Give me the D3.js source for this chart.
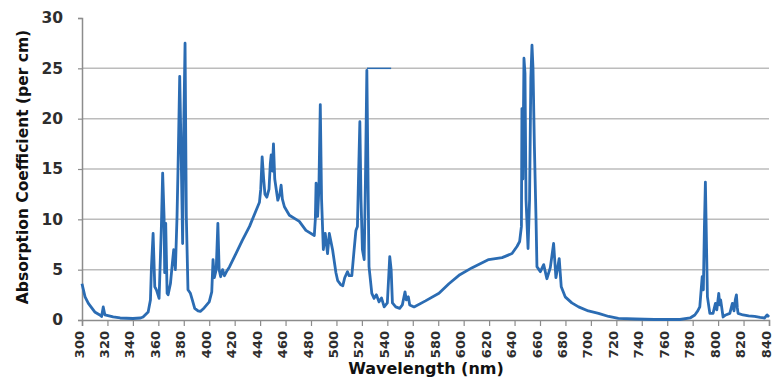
<!DOCTYPE html>
<html>
<head>
<meta charset="utf-8">
<script src="https://cdn.jsdelivr.net/npm/d3@7"></script>
<style>
  body { margin: 0; background: #fff; }
  svg { display: block; font-family: "DejaVu Sans", Verdana, sans-serif; }
</style>
</head>
<body>
<div id="chart"></div>
<script>
// spectrum: wavelength (nm) and absorption (per cm)
const wavelength = [
  300, 302.4, 305, 310, 314, 315.4, 316.7, 318, 324.5, 330, 340, 346, 348, 352,
  353.8, 354.6, 355.9, 357.2, 358.5, 360.6, 362.4, 363.4, 364.5, 365, 365.8, 366.9,
  367.7, 369.5, 371, 372.1, 373.4, 374.7, 375.5, 376.8, 378.1, 379.1, 379.9, 381,
  382, 383.3, 385.2, 386.7, 388.6, 391.2, 393, 396, 400, 402, 403, 404, 405.5,
  406.8, 407.8, 409, 410.5, 412, 414, 416, 421, 426, 431.7, 436.9, 439.5, 440.5,
  441.6, 442.8, 443.8, 445.3, 447, 448, 448.7, 449.6, 450.5, 451.5, 453.9, 455.5,
  456.5, 457.5, 459.1, 463, 470.8, 476, 482.6, 483.4, 484, 485.2, 486.2, 487.3,
  488.3, 489.7, 491.2, 493, 494.4, 497, 499.6, 501, 503.5, 505, 506.5, 508.7, 510,
  512.1, 513.9, 515.3, 516.5, 517.5, 518.4, 519.3, 520.4, 521.8, 522.8, 523.9, 525,
  525.6, 527.8, 529.6, 531.4, 533.5, 535.4, 537.5, 540, 541.9, 543, 544, 546.6,
  549.7, 551.8, 553.9, 554.9, 556.5, 557.6, 561, 570, 580.6, 588.4, 597, 606.7,
  619.7, 630.2, 638, 641.9, 644, 645.4, 645.8, 646.5, 647.4, 648.2, 649, 650.6,
  651.8, 652.8, 653.7, 654.5, 655.6, 656.9, 657.6, 660.3, 662.9, 665.4, 668.1,
  670.7, 672.5, 675.1, 676.7, 679.8, 685, 690.3, 698, 706, 714, 721.6, 734.7, 750,
  770, 778, 781.7, 784, 785.6, 787.5, 788.4, 789.2, 790, 790.8, 791.6, 793.5, 796,
  797.9, 799, 800.5, 801.3, 802, 803.9, 806, 809.2, 811.2, 812.5, 813.5, 814.4,
  815.1, 815.7, 819.6, 824, 828.7, 833, 836.6, 838.5, 840
];
const absorption = [
  3.6, 2.3, 1.65, 0.8, 0.5, 0.35, 1.3, 0.5, 0.3, 0.2, 0.15, 0.2, 0.3, 0.8,
  2.0, 5.3, 8.6, 3.3, 3.0, 2.15, 9.3, 14.6, 10.3, 4.7, 9.6, 2.65,
  2.5, 3.6, 5.6, 7.0, 5.0, 10.3, 15.2, 24.2, 15.2, 7.6, 18.5, 27.5,
  10.3, 3.0, 2.65, 2.0, 1.15, 0.9, 0.85, 1.2, 1.8, 2.8, 6.0, 4.2, 5.0,
  9.6, 5.0, 4.3, 5.0, 4.4, 4.9, 5.3, 6.6, 7.9, 9.3, 10.9, 11.7, 13.0,
  16.2, 14.0, 12.5, 12.2, 13.0, 15.5, 16.4, 14.8, 17.5, 14.0, 11.9, 12.5,
  13.4, 12.0, 11.25, 10.4, 9.8, 8.9, 8.4, 10.0, 13.6, 10.3, 13.0, 21.4,
  12.0, 7.0, 8.6, 6.6, 8.6, 6.95, 4.7, 3.9, 3.5, 3.4, 4.2, 4.8, 4.4,
  4.4, 7.0, 8.9, 9.3, 15.0, 19.7, 12.0, 7.0, 6.0, 14.0, 24.8, 12.0,
  5.3, 2.65, 2.15, 2.5, 1.8, 2.2, 1.3, 1.7, 6.3, 5.0, 1.7, 1.3,
  1.15, 1.5, 2.8, 2.0, 2.3, 1.5, 1.3, 1.9, 2.65, 3.6, 4.5, 5.2,
  6.0, 6.2, 6.6, 7.3, 7.8, 9.3, 21.0, 14.0, 26.0, 24.5, 12.0, 7.1,
  12.0, 24.0, 27.3, 25.0, 17.2, 9.9, 5.3, 4.8, 5.5, 4.1, 5.2,
  7.6, 4.2, 6.1, 3.3, 2.3, 1.7, 1.3, 0.9, 0.66, 0.35, 0.17, 0.1, 0.05,
  0.05, 0.2, 0.5, 0.9, 1.3, 4.3, 3.0, 9.0, 13.7, 8.0, 2.3, 0.66, 0.66,
  1.65, 1.0, 2.65, 1.5, 2.0, 0.3, 0.5, 0.66, 1.65, 0.9, 2.0, 2.5,
  1.2, 0.66, 0.5, 0.4, 0.35, 0.25, 0.2, 0.5, 0.3
];
// flat trace at 25 to the right of the 524 nm peak
const flatTop = [[524, 25], [543, 25]];

const xTicks = d3.range(300, 841, 20);
const yTicks = [0, 5, 10, 15, 20, 25, 30];

const width = 775, height = 379;
const margin = { top: 18, right: 6, bottom: 59, left: 82 };
const blue = "#2b6cb3";

const svg = d3.select("#chart").append("svg")
  .attr("width", width).attr("height", height);

const x = d3.scaleLinear().domain([300, 840])
  .range([margin.left, width - margin.right]);
const y = d3.scaleLinear().domain([0, 30])
  .range([height - margin.bottom, margin.top]);

// horizontal gridlines
svg.append("g")
  .selectAll("line")
  .data(yTicks.filter((d) => d > 0 && d < 30))
  .enter().append("line")
  .attr("x1", x(300)).attr("x2", x(840))
  .attr("y1", (d) => y(d)).attr("y2", (d) => y(d))
  .attr("stroke", "#bcbcbc").attr("stroke-width", 1.5);

// y axis
const yAxis = svg.append("g")
  .attr("transform", `translate(${x(300)},0)`)
  .call(d3.axisLeft(y).tickValues(yTicks).tickSize(4).tickPadding(15));
yAxis.select(".domain").attr("stroke", "#8c8c8c").attr("stroke-width", 1.5);
yAxis.selectAll(".tick line").attr("stroke", "#8c8c8c").attr("stroke-width", 1.2);
yAxis.selectAll(".tick text")
  .attr("font-size", 15.5).attr("font-weight", "bold").attr("fill", "#2e2e2e")
  .attr("font-family", "DejaVu Sans");

// x axis
const xAxis = svg.append("g")
  .attr("transform", `translate(0,${y(0)})`)
  .call(d3.axisBottom(x).tickValues(xTicks).tickSize(6).tickFormat(d3.format("d")));
xAxis.select(".domain").attr("stroke", "#8c8c8c").attr("stroke-width", 1.5);
xAxis.selectAll(".tick line").attr("stroke", "#8c8c8c").attr("stroke-width", 1.2);
xAxis.selectAll(".tick text")
  .attr("font-size", 13).attr("font-weight", "bold").attr("fill", "#2e2e2e")
  .attr("font-family", "DejaVu Sans")
  .style("text-anchor", "end")
  .attr("transform", "rotate(-90)")
  .attr("x", -11).attr("y", -3.5).attr("dy", "0.35em");

// spectrum
const points = wavelength.map((w, i) => [w, absorption[i]]);
const line = d3.line().x((d) => x(d[0])).y((d) => y(d[1]));
svg.append("path")
  .datum(points)
  .attr("d", line)
  .attr("fill", "none")
  .attr("stroke", blue)
  .attr("stroke-width", 2.8)
  .attr("stroke-linejoin", "round");
svg.append("path")
  .datum(flatTop)
  .attr("d", line)
  .attr("fill", "none")
  .attr("stroke", blue)
  .attr("stroke-width", 1.5);

// axis titles
svg.append("text")
  .attr("x", 426).attr("y", 374)
  .attr("text-anchor", "middle")
  .attr("font-size", 16).attr("font-weight", "bold").attr("fill", "#111")
  .text("Wavelength (nm)");
svg.append("text")
  .attr("transform", "translate(28,167) rotate(-90)")
  .attr("text-anchor", "middle")
  .attr("font-size", 15.5).attr("font-weight", "bold").attr("fill", "#111")
  .text("Absorption Coefficient (per cm)");
</script>
</body>
</html>
